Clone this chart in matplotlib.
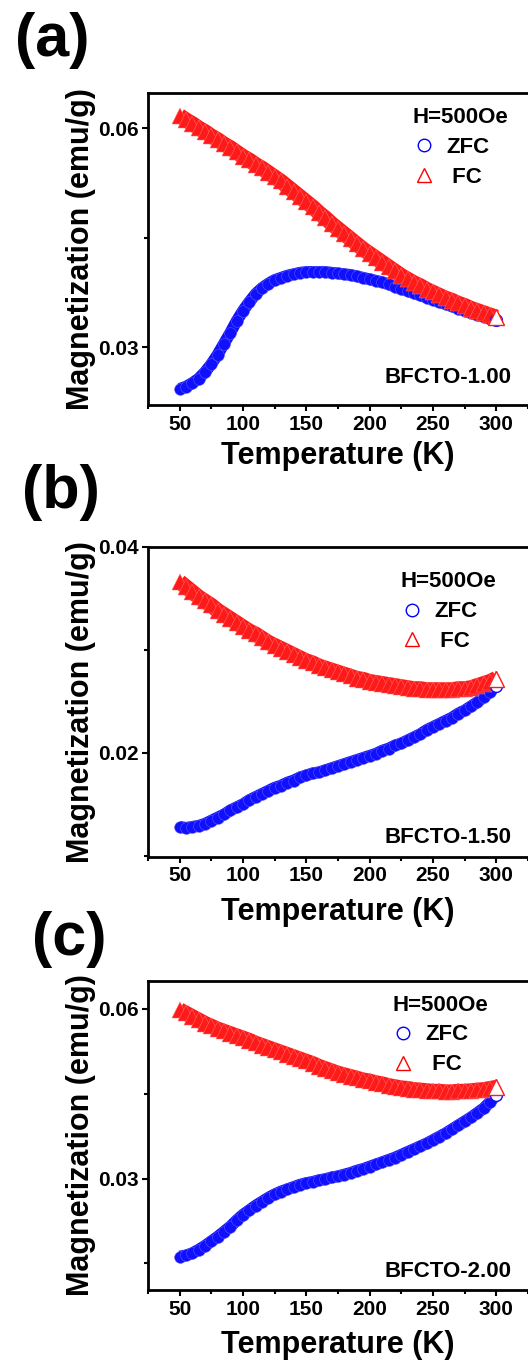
import matplotlib
matplotlib.use("Agg")
import matplotlib.pyplot as plt
from matplotlib.lines import Line2D
from matplotlib.ticker import MultipleLocator, FormatStrFormatter

plt.rcParams['font.family'] = ['Liberation Sans', 'DejaVu Sans']
plt.rcParams['font.weight'] = 'bold'
plt.rcParams['axes.labelweight'] = 'bold'

# temperature (K), one reading every 5 K
temperature = [50, 55, 60, 65, 70, 75, 80, 85, 90, 95,
               100, 105, 110, 115, 120, 125, 130, 135, 140, 145,
               150, 155, 160, 165, 170, 175, 180, 185, 190, 195,
               200, 205, 210, 215, 220, 225, 230, 235, 240, 245,
               250, 255, 260, 265, 270, 275, 280, 285, 290, 295, 300]

# (a) BFCTO-1.00
zfc_a = [0.0243, 0.0246, 0.0251, 0.0257, 0.0266, 0.0277, 0.0290, 0.0305, 0.0320, 0.0336,
         0.0350, 0.0362, 0.0373, 0.0381, 0.0387, 0.0392, 0.0395, 0.0398, 0.0400, 0.0402,
         0.0403, 0.0403, 0.0403, 0.0403, 0.0402, 0.0401, 0.0400, 0.0399, 0.0397, 0.0395,
         0.0393, 0.0391, 0.0389, 0.0386, 0.0383, 0.0380, 0.0377, 0.0374, 0.0371, 0.0368,
         0.0365, 0.0362, 0.0359, 0.0356, 0.0353, 0.0350, 0.0347, 0.0344, 0.0342, 0.0339, 0.0337]
fc_a = [0.0617, 0.0611, 0.0606, 0.0600, 0.0595, 0.0589, 0.0584, 0.0578, 0.0573, 0.0567,
        0.0561, 0.0556, 0.0550, 0.0545, 0.0539, 0.0533, 0.0527, 0.0520, 0.0513, 0.0506,
        0.0499, 0.0492, 0.0484, 0.0477, 0.0469, 0.0462, 0.0455, 0.0448, 0.0441, 0.0434,
        0.0428, 0.0422, 0.0416, 0.0410, 0.0404, 0.0398, 0.0393, 0.0388, 0.0384, 0.0379,
        0.0375, 0.0371, 0.0367, 0.0364, 0.0360, 0.0357, 0.0353, 0.0350, 0.0347, 0.0344, 0.0341]

# (b) BFCTO-1.50
zfc_b = [0.0128, 0.0127, 0.0128, 0.0129, 0.0131, 0.0134, 0.0137, 0.0140, 0.0144, 0.0147,
         0.0150, 0.0154, 0.0157, 0.0160, 0.0163, 0.0166, 0.0168, 0.0171, 0.0173, 0.0176,
         0.0178, 0.0180, 0.0181, 0.0183, 0.0185, 0.0187, 0.0189, 0.0191, 0.0193, 0.0195,
         0.0197, 0.0199, 0.0202, 0.0204, 0.0207, 0.0209, 0.0212, 0.0215, 0.0218, 0.0222,
         0.0225, 0.0228, 0.0231, 0.0234, 0.0238, 0.0241, 0.0245, 0.0249, 0.0254, 0.0259, 0.0265]
fc_b = [0.0366, 0.0361, 0.0356, 0.0351, 0.0347, 0.0343, 0.0338, 0.0334, 0.0330, 0.0326,
        0.0322, 0.0318, 0.0315, 0.0311, 0.0307, 0.0304, 0.0301, 0.0298, 0.0295, 0.0292,
        0.0289, 0.0287, 0.0284, 0.0282, 0.0280, 0.0278, 0.0276, 0.0274, 0.0272, 0.0271,
        0.0269, 0.0268, 0.0267, 0.0266, 0.0265, 0.0264, 0.0263, 0.0262, 0.0262, 0.0261,
        0.0261, 0.0261, 0.0261, 0.0261, 0.0262, 0.0262, 0.0263, 0.0265, 0.0267, 0.0269, 0.0272]

# (c) BFCTO-2.00
zfc_c = [0.0162, 0.0164, 0.0168, 0.0174, 0.0181, 0.0189, 0.0197, 0.0206, 0.0215, 0.0226,
         0.0236, 0.0244, 0.0252, 0.0259, 0.0266, 0.0272, 0.0277, 0.0281, 0.0285, 0.0289,
         0.0292, 0.0294, 0.0297, 0.0299, 0.0302, 0.0304, 0.0307, 0.0310, 0.0314, 0.0317,
         0.0321, 0.0325, 0.0329, 0.0333, 0.0337, 0.0342, 0.0347, 0.0352, 0.0357, 0.0362,
         0.0368, 0.0374, 0.0380, 0.0387, 0.0394, 0.0401, 0.0408, 0.0416, 0.0424, 0.0435, 0.0448]
fc_c = [0.0598, 0.0592, 0.0586, 0.0580, 0.0574, 0.0569, 0.0564, 0.0560, 0.0556, 0.0552,
        0.0548, 0.0544, 0.0539, 0.0535, 0.0531, 0.0527, 0.0523, 0.0519, 0.0515, 0.0511,
        0.0507, 0.0503, 0.0498, 0.0494, 0.0490, 0.0486, 0.0483, 0.0480, 0.0477, 0.0474,
        0.0472, 0.0469, 0.0467, 0.0464, 0.0462, 0.0460, 0.0459, 0.0457, 0.0456, 0.0455,
        0.0454, 0.0454, 0.0453, 0.0453, 0.0454, 0.0454, 0.0455, 0.0456, 0.0457, 0.0459, 0.0461]

samples = ['BFCTO-1.00', 'BFCTO-1.50', 'BFCTO-2.00']
panel_tags = ['(a)', '(b)', '(c)']
x_ticks = [50, 100, 150, 200, 250, 300]


def draw_band(ax, y, marker, ms, lw, color, light):
    # dense overlapping hollow symbols look like a solid textured band
    ax.plot(temperature, y, '-', color=color, lw=lw, solid_capstyle='butt', zorder=2)
    ax.plot(temperature, y, marker, ms=ms, mfc=color, mec=light, mew=0.35, zorder=3)
    ax.plot(temperature[-1:], y[-1:], marker, ms=ms, mfc='white', mec=color, mew=1.0, zorder=4)


def draw_panel(ax, zfc, fc, ylim, ystep, sample, legend_xy, text_y, xpad):
    draw_band(ax, zfc, 'o', 8.5, 8.5, '#1010ff', '#6060ff')
    draw_band(ax, fc, '^', 11, 11, '#ff1a1a', '#ff7070')

    ax.set_xlim(25, 325)
    ax.set_ylim(ylim)
    ax.set_xticks(x_ticks)
    ax.xaxis.set_minor_locator(MultipleLocator(25))
    ax.yaxis.set_major_locator(MultipleLocator(ystep))
    ax.yaxis.set_minor_locator(MultipleLocator(ystep / 2))
    ax.yaxis.set_major_formatter(FormatStrFormatter('%.2f'))

    # style graph
    for s in ['top', 'bottom', 'left']:
        ax.spines[s].set_linewidth(2)
    ax.spines['right'].set_visible(False)
    ax.tick_params(which='both', direction='out', width=1.5, labelsize=15, pad=3,
                   top=False, right=False)
    ax.tick_params(which='major', length=4)
    ax.tick_params(which='minor', length=3)

    ax.set_xlabel('Temperature (K)', fontsize=22, fontweight='bold', labelpad=xpad)
    ax.set_ylabel('Magnetization (emu/g)', fontsize=22, fontweight='bold', labelpad=1)

    handles = [Line2D([], [], ls='none', marker='o', ms=9, mfc='white', mec='blue', mew=1),
               Line2D([], [], ls='none', marker='^', ms=10, mfc='white', mec='red', mew=1)]
    leg = ax.legend(handles, ['ZFC', ' FC'], loc='upper left', bbox_to_anchor=legend_xy,
                    title='H=500Oe', frameon=False, prop={'size': 16, 'weight': 'bold'},
                    title_fontproperties={'size': 16, 'weight': 'bold'},
                    handlelength=1.0, handletextpad=0.5, labelspacing=0.4,
                    borderpad=0, borderaxespad=0)
    leg._legend_box.align = 'left'

    ax.text(0.957, text_y, sample, transform=ax.transAxes, ha='right', va='baseline',
            fontsize=16, fontweight='bold')


fig = plt.figure(figsize=(5.28, 13.64), dpi=100)

ax_a = fig.add_axes([0.2803, 0.7031, 0.7197, 0.2287])
ax_b = fig.add_axes([0.2803, 0.3719, 0.7197, 0.2273])
ax_c = fig.add_axes([0.2803, 0.0543, 0.7197, 0.2268])

draw_panel(ax_a, zfc_a, fc_a, (0.0221, 0.0648), 0.03, samples[0], (0.697, 0.955), 0.07, 5)
draw_panel(ax_b, zfc_b, fc_b, (0.0099, 0.0400), 0.02, samples[1], (0.665, 0.92), 0.044, 8)
draw_panel(ax_c, zfc_c, fc_c, (0.0103, 0.0650), 0.03, samples[2], (0.643, 0.955), 0.042, 8)

# panel tags
for tag, (x, y) in zip(panel_tags, [(0.028, 0.991), (0.042, 0.660), (0.060, 0.332)]):
    fig.text(x, y, tag, fontsize=44, fontweight='bold', ha='left', va='top')

fig.savefig('out.png', dpi=100)
